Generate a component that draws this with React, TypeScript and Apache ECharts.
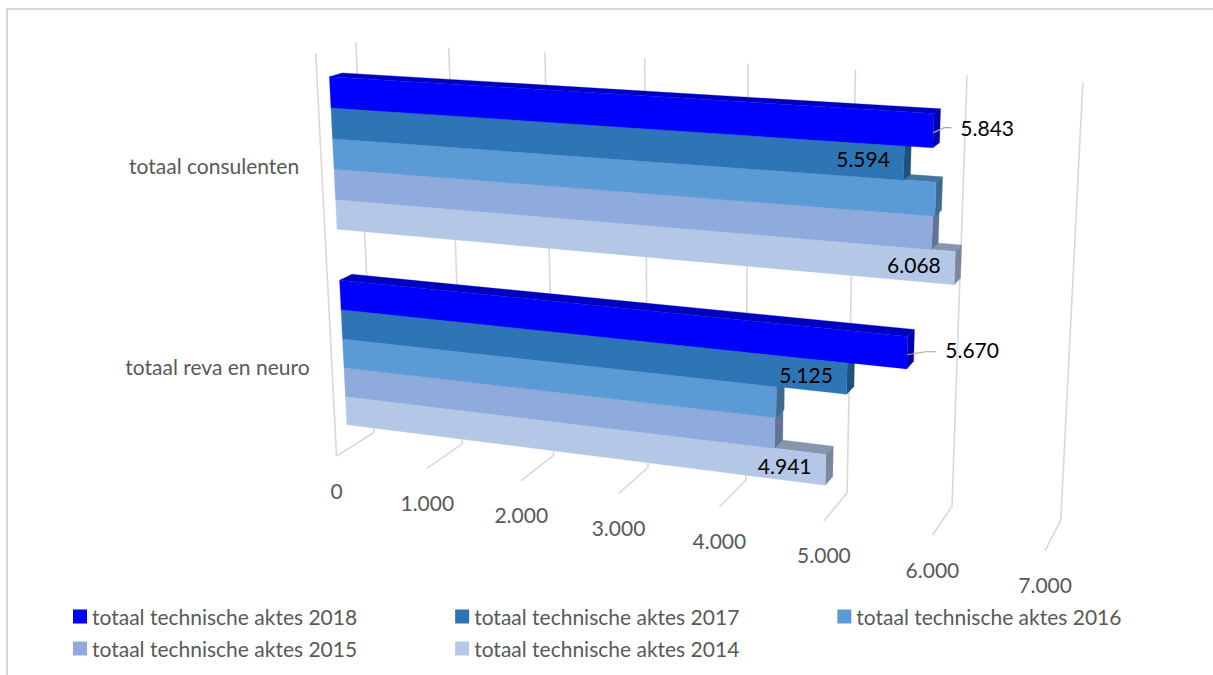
import React, { useEffect, useRef } from "react";
import * as echarts from "echarts";

const categories = ["totaal consulenten", "totaal reva en neuro"];
const seriesNames = [
  "totaal technische aktes 2018",
  "totaal technische aktes 2017",
  "totaal technische aktes 2016",
  "totaal technische aktes 2015",
  "totaal technische aktes 2014",
];
const values2018 = [5843, 5670];
const values2017 = [5594, 5125];
const values2016 = [5880, 4465];
const values2015 = [5860, 4455];
const values2014 = [6068, 4941];
const seriesValues = [values2018, values2017, values2016, values2015, values2014];
const seriesColors = ["#0000FF", "#2E75B6", "#5B9BD5", "#8FAADC", "#B4C7E7"];
const labelled = [true, true, false, false, true];
const tickValues = [0, 1000, 2000, 3000, 4000, 5000, 6000, 7000];
const tickLabels = ["0", "1.000", "2.000", "3.000", "4.000", "5.000", "6.000", "7.000"];
const MAX_VALUE = 7000;

// camera calibration: screen position of the plot box's edges at each tick
const backFloor = [[374, 433], [462, 440], [553, 455], [650, 468], [745.7, 481.7], [846.7, 494], [952, 506.7], [1060.3, 520]];
const backTop = [[355.7, 43], [448, 48], [544, 53], [645, 58], [750, 63], [856, 69], [966.7, 75], [1082, 81.7]];
const frontFloor = [[336.7, 456.7], [427.3, 469], [521, 481], [618, 493], [719.3, 506.7], [824, 520.7], [932.7, 535], [1045.3, 550]];
const frontTopLeft = [316, 53];

function solve(A: number[][], b: number[]) {
  const n = b.length;
  const M = A.map((r, i) => [...r, b[i]]);
  for (let c = 0; c < n; c++) {
    let piv = c;
    for (let r = c + 1; r < n; r++) if (Math.abs(M[r][c]) > Math.abs(M[piv][c])) piv = r;
    [M[c], M[piv]] = [M[piv], M[c]];
    for (let r = 0; r < n; r++) {
      if (r === c) continue;
      const f = M[r][c] / M[c][c];
      for (let k = c; k <= n; k++) M[r][k] -= f * M[c][k];
    }
  }
  return M.map((r, i) => r[n] / r[i]);
}

function fitCamera() {
  const pts: number[][] = [];
  tickValues.forEach((v, i) => {
    const u = v / MAX_VALUE;
    pts.push([u, 0, 1, backFloor[i][0], backFloor[i][1]]);
    pts.push([u, 1, 1, backTop[i][0], backTop[i][1]]);
    pts.push([u, 0, 0, frontFloor[i][0], frontFloor[i][1]]);
  });
  pts.push([0, 1, 0, frontTopLeft[0], frontTopLeft[1]]);
  const rows: number[][] = [];
  const rhs: number[] = [];
  for (const [u, h, d, X, Y] of pts) {
    rows.push([u, h, d, 1, 0, 0, 0, 0, -X * u, -X * h, -X * d]);
    rhs.push(X);
    rows.push([0, 0, 0, 0, u, h, d, 1, -Y * u, -Y * h, -Y * d]);
    rhs.push(Y);
  }
  const s = [1, 1, 1, 1, 1, 1, 1, 1, 400, 400, 400];
  const scaled = rows.map((r) => r.map((x, j) => x * s[j]));
  const ATA = s.map((_, i) => s.map((_, j) => scaled.reduce((acc, r) => acc + r[i] * r[j], 0)));
  const ATb = s.map((_, i) => scaled.reduce((acc, r, k) => acc + r[i] * rhs[k], 0));
  return solve(ATA, ATb).map((x, i) => x * s[i]);
}
const P = fitCamera();
function project(u: number, h: number, d: number): number[] {
  const w = P[8] * u + P[9] * h + P[10] * d + 1;
  return [(P[0] * u + P[1] * h + P[2] * d + P[3]) / w, (P[4] * u + P[5] * h + P[6] * d + P[7]) / w];
}

const GRID = { left: 100, top: 100, width: 700, height: 400 };
const BAR_FRONT = 0.3;
const BAR_BACK = 0.62;
const BAR_THICK = 0.0745;
const GRID_COLOR = "#D9D9D9";
const TEXT_COLOR = "#595959";
const FONT = "Lato";
const FONT_SIZE = 21;
const font = `${FONT_SIZE}px ${FONT}`;

function shade(hex: string, f: number) {
  const n = parseInt(hex.slice(1), 16);
  const c = [(n >> 16) & 255, (n >> 8) & 255, n & 255].map((x) => Math.round(x * f));
  return `rgb(${c[0]},${c[1]},${c[2]})`;
}

function toUnit(api: any, v: number, cat: number) {
  const p = api.coord([v, cat]);
  return [(p[0] - GRID.left) / GRID.width, 1 - (p[1] - GRID.top) / GRID.height];
}

function poly(points: number[][], fill: string) {
  return { type: "polygon", shape: { points }, style: { fill, stroke: fill, lineWidth: 0.3 } };
}
function line(points: number[][], stroke: string, lineWidth: number) {
  return { type: "polyline", shape: { points }, style: { stroke, lineWidth, fill: "none" } };
}
function text(t: string, x: number, y: number, align: string, fill: string) {
  return { type: "text", style: { text: t, x, y, align, verticalAlign: "middle", fill, font } };
}

// outside labels: [leader elbow dx, leader dy, leader end dx, text dx]
const outsideLabel: Record<string, number[]> = {
  "0-0": [11, -5, 18, 27],
  "0-1": [18, -3, 29, 38],
};

function renderBar(k: number) {
  return (_: any, api: any) => {
    const value = api.value(0);
    const cat = api.value(1);
    const [u, hc] = toUnit(api, value, cat);
    const [u0] = toUnit(api, 0, cat);
    const hTop = hc + BAR_THICK * (2.5 - k);
    const hBot = hTop - BAR_THICK;
    const color = api.visual("color");
    const fTL = project(u0, hTop, BAR_FRONT), fBL = project(u0, hBot, BAR_FRONT);
    const fTR = project(u, hTop, BAR_FRONT), fBR = project(u, hBot, BAR_FRONT);
    const bTL = project(u0, hTop, BAR_BACK), bTR = project(u, hTop, BAR_BACK), bBR = project(u, hBot, BAR_BACK);
    const children: any[] = [
      poly([fTL, bTL, bTR, fTR], shade(color, 0.75)),
      poly([fTR, bTR, bBR, fBR], shade(color, 0.68)),
      poly([fTL, fTR, fBR, fBL], color),
    ];
    if (labelled[k]) {
      const cx = (fTR[0] + fBR[0]) / 2;
      const cy = (fTR[1] + fBR[1]) / 2;
      const label = value.toLocaleString("de-DE");
      const o = outsideLabel[`${k}-${cat}`];
      if (o) {
        children.push(line([[cx, cy + 2], [cx + o[0], cy + 2 + o[1]], [cx + o[2], cy + 2 + o[1]]], "#A6A6A6", 1.2));
        children.push(text(label, cx + o[3], cy - 3, "left", "#000000"));
      } else {
        children.push(text(label, cx - 14, cy - 4, "right", "#000000"));
      }
    }
    return { type: "group", children };
  };
}

function renderGridline(_: any, api: any) {
  const v = api.value(0);
  const i = tickValues.indexOf(v);
  const [u] = toUnit(api, v, 0);
  const top = project(u, 1, 1), bottom = project(u, 0, 1), front = project(u, 0, 0);
  const children: any[] = [line([top, bottom, front], GRID_COLOR, 1.6)];
  if (i === 0) children.push(line([project(u, 1, 0), front], GRID_COLOR, 1.6));
  children.push(text(tickLabels[i], front[0], front[1] + 34, "center", TEXT_COLOR));
  return { type: "group", children };
}

function renderCategory(_: any, api: any) {
  const cat = api.value(1);
  const [u, h] = toUnit(api, 0, cat);
  const p = project(u, h, 0);
  return text(categories[cat], p[0] - 22, p[1] + 7, "right", TEXT_COLOR);
}

export default function App() {
  const ref = useRef<HTMLDivElement>(null);
  useEffect(() => {
    const chart = echarts.init(ref.current!, null, { renderer: "svg" });
    const bars: any[] = seriesNames
      .map((name, k) => ({
        type: "custom",
        name,
        coordinateSystem: "cartesian2d",
        renderItem: renderBar(k),
        itemStyle: { color: seriesColors[k] },
        encode: { x: 0, y: 1 },
        data: seriesValues[k].map((v, c) => [v, c]),
        silent: true,
      }))
      .reverse();
    const legendBase = {
      left: 73,
      padding: 0,
      itemWidth: 14,
      itemHeight: 14,
      itemGap: 98,
      icon: "rect",
      selectedMode: false,
      textStyle: { color: TEXT_COLOR, fontFamily: FONT, fontSize: FONT_SIZE },
    };
    chart.setOption({
      animation: false,
      backgroundColor: "#ffffff",
      grid: GRID,
      xAxis: { type: "value", min: 0, max: MAX_VALUE, interval: 1000, show: false },
      yAxis: { type: "category", data: categories, inverse: true, show: false },
      legend: [
        { ...legendBase, top: 606, data: seriesNames.slice(0, 3) },
        { ...legendBase, top: 638, data: seriesNames.slice(3) },
      ],
      graphic: [
        { type: "line", shape: { x1: 7, y1: 9, x2: 1213, y2: 9 }, style: { stroke: GRID_COLOR, lineWidth: 2 }, silent: true },
        { type: "line", shape: { x1: 7, y1: 8, x2: 7, y2: 675 }, style: { stroke: GRID_COLOR, lineWidth: 2 }, silent: true },
      ],
      series: [
        {
          type: "custom",
          name: "gridlines",
          coordinateSystem: "cartesian2d",
          renderItem: renderGridline,
          encode: { x: 0, y: 1 },
          data: tickValues.map((v) => [v, 0]),
          silent: true,
        },
        {
          type: "custom",
          name: "categories",
          coordinateSystem: "cartesian2d",
          renderItem: renderCategory,
          encode: { x: 0, y: 1 },
          data: categories.map((_, c) => [0, c]),
          silent: true,
        },
        ...bars,
      ],
    });
    return () => chart.dispose();
  }, []);
  return <div ref={ref} style={{ position: "fixed", left: 0, top: 0, width: 1213, height: 675, background: "#fff" }} />;
}
